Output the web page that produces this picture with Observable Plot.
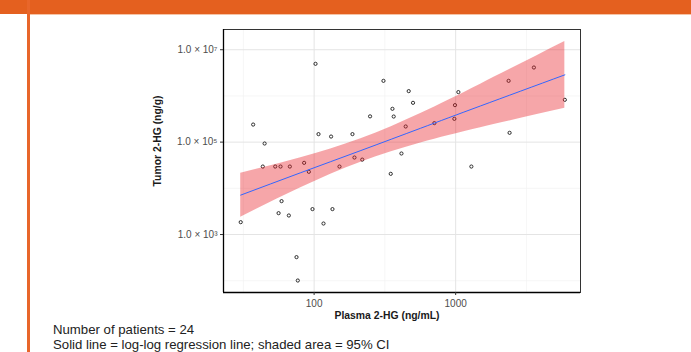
<!DOCTYPE html>
<html><head><meta charset="utf-8">
<script src="https://cdn.jsdelivr.net/npm/d3@7"></script>
<script src="https://cdn.jsdelivr.net/npm/@observablehq/plot@0.6"></script>
<style>
html,body{margin:0;padding:0;background:#fff;}
#wrap{position:relative;width:691px;height:352px;overflow:hidden;font-family:"Liberation Sans",Arial,sans-serif;background:#fff;}
#band{position:absolute;left:0;top:0;width:691px;height:14px;background:#E4601F;}
#bandline{position:absolute;left:30px;top:14px;width:661px;height:1px;background:#F6C3A5;}
#border{position:absolute;left:27px;top:0;width:3px;height:352px;background:#E8662A;}
#chart{position:absolute;left:0;top:0;}
.title{position:absolute;white-space:nowrap;font-weight:bold;font-size:10.4px;color:#1a1a1a;transform:translate(-50%,-50%);}
#ytitle{left:157px;top:141px;transform:translate(-50%,-50%) rotate(-90deg);}
#xtitle{left:387px;top:315px;}
#caption{position:absolute;left:53px;top:322px;font-size:13.2px;line-height:15px;color:#222;white-space:nowrap;}
</style>
</head><body>
<div id="wrap">
  <div id="chart"></div>
  <div id="band"></div>
  <div id="bandline"></div>
  <div id="border"></div>
  <div class="title" id="ytitle">Tumor 2-HG (ng/g)</div>
  <div class="title" id="xtitle">Plasma 2-HG (ng/mL)</div>
  <div id="caption">Number of patients = 24<br>Solid line = log-log regression line; shaded area = 95% CI</div>
</div>
<script>
// Data
const plasma = [30.3, 37.1, 43.4, 44.7, 53.1, 56.1, 57.9, 58.9, 66.3, 67.4, 75.1, 76.7, 85.0, 91.8, 97.4, 102.3, 107.4, 116.5, 131.8, 134.8, 151.1, 186.6, 192.8, 218.8, 248.5, 309, 347.8, 357.6, 365, 414, 443.6, 465.9, 499.8, 707.5, 979, 989, 1045, 1291, 2366, 2404, 3571, 5907];
const tumor = [1850, 240000, 29600, 93300, 29600, 2900, 29600, 5280, 2580, 29600, 324, 101, 35600, 22800, 3550, 4950000, 149000, 1730, 132000, 3550, 29600, 149000, 46400, 41800, 361000, 2120000, 20600, 526000, 358000, 56700, 218000, 1270000, 709000, 258000, 319000, 632000, 1210000, 29600, 2120000, 159000, 4120000, 824000];

// Regression line and 95% CI band
const fitX  = [30.3, 80.5, 214, 566, 1500, 5907];
const fitY  = [7130, 21800, 65800, 200000, 608000, 2860000];
const ciLo  = [2380, 10300, 36700, 95700, 205000, 542000];
const ciHi  = [21300, 45900, 118000, 418000, 1800000, 15100000];

const xMajor = [100, 1000];
const xMinor = [31.6228, 316.228, 3162.28];
const yMajor = [1e3, 1e5, 1e7];
const yMinor = [1e2, 1e4, 1e6];
const yTickLabels = ["1.0 × 10³", "1.0 × 10⁵", "1.0 × 10⁷"];

const points = plasma.map((p, i) => ({x: p, y: tumor[i]}));
const band = fitX.map((x, i) => ({x, fit: fitY[i], lo: ciLo[i], hi: ciHi[i]}));

const xDomain = [22.9, 7620];
const yDomain = [55.6, 2.74e7];

const chart = Plot.plot({
  width: 691, height: 322,
  marginLeft: 223, marginRight: 111, marginTop: 29, marginBottom: 30,
  style: {fontFamily: "Liberation Sans, Arial, sans-serif", background: "transparent"},
  x: {type: "log", domain: xDomain, axis: null},
  y: {type: "log", domain: yDomain, axis: null},
  marks: [
    Plot.ruleX(xMinor, {stroke: "#f2f2f2", strokeWidth: 0.7}),
    Plot.ruleY(yMinor, {stroke: "#f2f2f2", strokeWidth: 0.7}),
    Plot.ruleX(xMajor, {stroke: "#e4e4e4", strokeWidth: 1}),
    Plot.ruleY(yMajor, {stroke: "#e4e4e4", strokeWidth: 1}),
    Plot.dot(points, {x: "x", y: "y", r: 1.6, stroke: "#1a1a1a", strokeWidth: 0.9, fill: "none"}),
    Plot.areaY(band, {x: "x", y1: "lo", y2: "hi", curve: "natural", fill: "rgb(232,32,40)", fillOpacity: 0.4}),
    Plot.line(band, {x: "x", y: "fit", curve: "natural", stroke: "#3366FF", strokeWidth: 1}),
    Plot.frame({stroke: "#333", strokeWidth: 1}),
    Plot.ruleX([xDomain[0]], {stroke: "#000", strokeWidth: 1.3}),
    Plot.ruleY([yDomain[0]], {stroke: "#000", strokeWidth: 1.3}),
    Plot.axisX({ticks: xMajor, tickFormat: d => String(d), tickSize: 3, tickPadding: 4, fontSize: 10, fill: "#4d4d4d", stroke: "#333", label: null}),
    Plot.axisY({ticks: yMajor, tickFormat: d => yTickLabels[yMajor.indexOf(d)], tickSize: 3, tickPadding: 3, fontSize: 10, fill: "#4d4d4d", stroke: "#333", label: null})
  ]
});
document.getElementById("chart").appendChild(chart);
</script>
</body></html>
